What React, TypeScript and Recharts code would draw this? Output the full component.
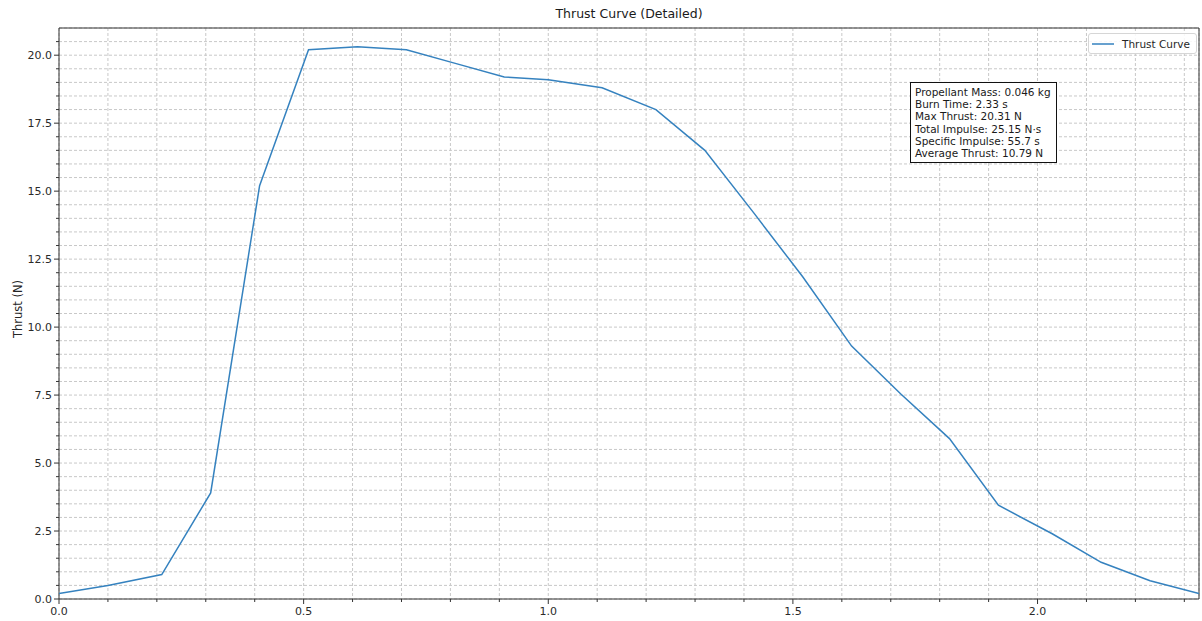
import React from "react";
import {
  CartesianGrid,
  Legend,
  Line,
  LineChart,
  ReferenceArea,
  XAxis,
  YAxis,
} from "recharts";

const times = [
  0, 0.1, 0.21, 0.31, 0.41, 0.51, 0.61, 0.71, 0.81, 0.91, 1.0, 1.11, 1.22,
  1.32, 1.42, 1.52, 1.62, 1.72, 1.82, 1.92, 2.03, 2.13, 2.23, 2.33,
];
const thrust = [
  0.2, 0.5, 0.9, 3.9, 15.2, 20.2, 20.31, 20.2, 19.7, 19.2, 19.1, 18.8, 18.0,
  16.5, 14.2, 11.85, 9.3, 7.55, 5.9, 3.45, 2.4, 1.35, 0.67, 0.2,
];

const xTicks = [
  0, 0.1, 0.2, 0.3, 0.4, 0.5, 0.6, 0.7, 0.8, 0.9, 1.0, 1.1, 1.2, 1.3, 1.4, 1.5,
  1.6, 1.7, 1.8, 1.9, 2.0, 2.1, 2.2, 2.3,
];
const yTicks = [
  0, 0.5, 1, 1.5, 2, 2.5, 3, 3.5, 4, 4.5, 5, 5.5, 6, 6.5, 7, 7.5, 8, 8.5, 9,
  9.5, 10, 10.5, 11, 11.5, 12, 12.5, 13, 13.5, 14, 14.5, 15, 15.5, 16, 16.5,
  17, 17.5, 18, 18.5, 19, 19.5, 20, 20.5,
];

const statLines = [
  "Propellant Mass: 0.046 kg",
  "Burn Time: 2.33 s",
  "Max Thrust: 20.31 N",
  "Total Impulse: 25.15 N·s",
  "Specific Impulse: 55.7 s",
  "Average Thrust: 10.79 N",
];

const data = times.map((t, i) => ({ t, thrust: thrust[i] }));

const FONT = "'DejaVu Sans', sans-serif";
const LINE_COLOR = "#3582bf";

const isMajor = (v: number, step: number) =>
  Math.abs(v / step - Math.round(v / step)) < 1e-6;

function XTick(props: any) {
  const { x, y, payload } = props;
  const v = payload.value;
  const major = isMajor(v, 0.5);
  return (
    <g>
      <line x1={x} x2={x} y1={y} y2={y + (major ? 5 : 3)} stroke="#333" />
      {major && (
        <text
          x={x}
          y={y + 16}
          textAnchor="middle"
          fontSize={11}
          fontFamily={FONT}
          fill="#2a2a2a"
        >
          {v.toFixed(1)}
        </text>
      )}
    </g>
  );
}

function YTick(props: any) {
  const { x, y, payload } = props;
  const v = payload.value;
  const major = isMajor(v, 2.5);
  return (
    <g>
      <line x1={x - (major ? 5 : 3)} x2={x} y1={y} y2={y} stroke="#333" />
      {major && (
        <text
          x={x - 7}
          y={y + 4}
          textAnchor="end"
          fontSize={11}
          fontFamily={FONT}
          fill="#2a2a2a"
        >
          {v.toFixed(1)}
        </text>
      )}
    </g>
  );
}

function LegendBox() {
  return (
    <div
      style={{
        display: "flex",
        alignItems: "center",
        border: "1px solid #d6d6d6",
        borderRadius: 3,
        background: "rgba(255,255,255,0.85)",
        padding: "2px 6px 2px 3px",
        height: 15,
        fontFamily: FONT,
        fontSize: 10.5,
        color: "#262626",
        whiteSpace: "nowrap",
      }}
    >
      <svg width={22} height={10} style={{ marginRight: 8 }}>
        <line x1={0} x2={22} y1={5} y2={5} stroke={LINE_COLOR} strokeWidth={1.5} />
      </svg>
      Thrust Curve
    </div>
  );
}

export default function App() {
  return (
    <div
      style={{
        position: "absolute",
        left: 0,
        top: 0,
        width: 1202,
        height: 621,
        background: "#fff",
        fontFamily: FONT,
      }}
    >
      <div
        style={{
          position: "absolute",
          left: 59,
          width: 1140,
          top: 6,
          textAlign: "center",
          fontSize: 12.5,
          color: "#1a1a1a",
        }}
      >
        Thrust Curve (Detailed)
      </div>
      <div
        style={{
          position: "absolute",
          left: 18,
          top: 309,
          transform: "translate(-50%, -50%) rotate(-90deg)",
          fontSize: 11.5,
          color: "#262626",
          whiteSpace: "nowrap",
        }}
      >
        Thrust (N)
      </div>
      <LineChart
        width={1202}
        height={621}
        data={data}
        margin={{ top: 28, right: 3, bottom: 21, left: 58 }}
      >
        <CartesianGrid stroke="#c8c8c8" strokeDasharray="3 2" />
        <XAxis
          dataKey="t"
          type="number"
          domain={[0, 2.33]}
          ticks={xTicks}
          interval={0}
          height={1}
          tickSize={0}
          tickMargin={0}
          axisLine={false}
          tick={(p: any) => <XTick {...p} />}
          allowDataOverflow
        />
        <YAxis
          type="number"
          domain={[0, 21]}
          ticks={yTicks}
          interval={0}
          width={1}
          tickSize={0}
          tickMargin={0}
          axisLine={false}
          tick={(p: any) => <YTick {...p} />}
          allowDataOverflow
        />
        <Line
          type="linear"
          dataKey="thrust"
          name="Thrust Curve"
          stroke={LINE_COLOR}
          strokeWidth={1.5}
          dot={false}
          isAnimationActive={false}
        />
        <ReferenceArea
          x1={0}
          x2={2.33}
          y1={0}
          y2={21}
          fill="none"
          stroke="#333"
          strokeWidth={1}
        />
        <Legend
          layout="horizontal"
          verticalAlign="middle"
          align="center"
          content={() => <LegendBox />}
          wrapperStyle={{ top: 33, left: 1088, width: "auto", height: "auto" }}
        />
      </LineChart>
      <div
        style={{
          position: "absolute",
          left: 910,
          top: 82,
          border: "1px solid #111",
          background: "#fff",
          padding: "3px 5px 3px 4px",
          fontSize: 10.5,
          lineHeight: "12.2px",
          color: "#1a1a1a",
          whiteSpace: "nowrap",
        }}
      >
        {statLines.map((s) => (
          <div key={s}>{s}</div>
        ))}
      </div>
    </div>
  );
}
